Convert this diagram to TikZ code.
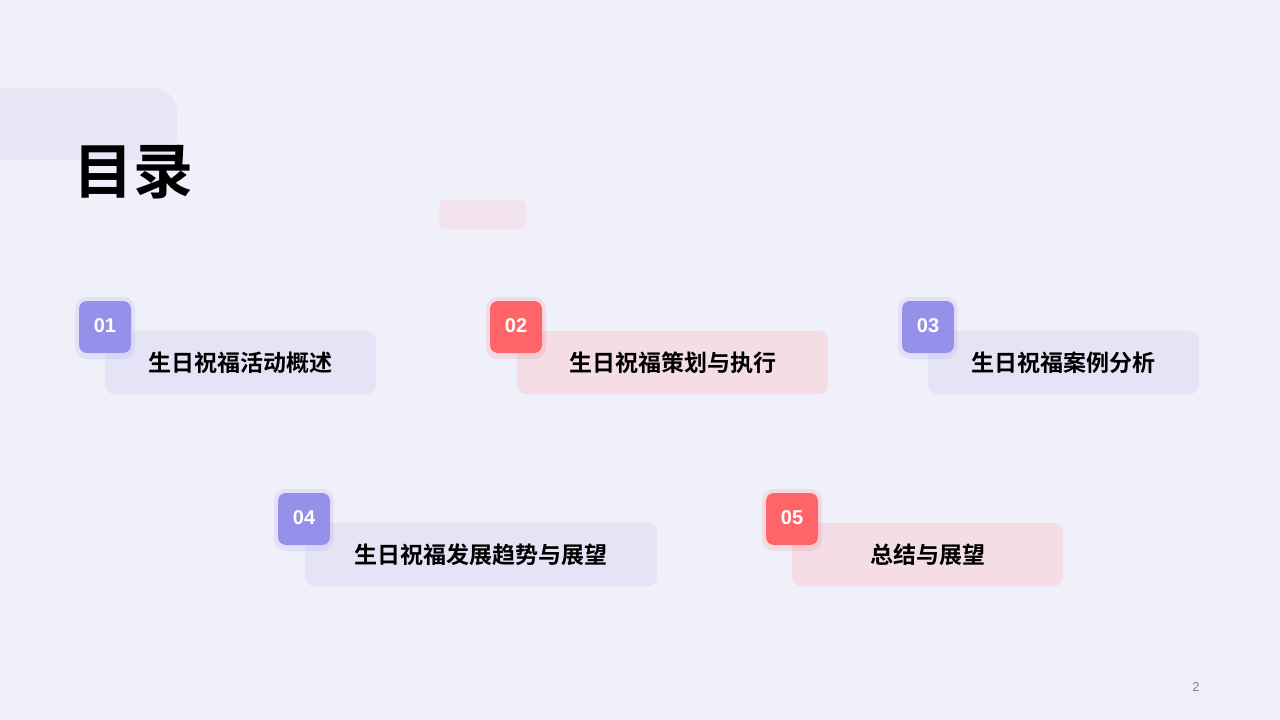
\documentclass[tikz,border=0pt]{standalone}
\usepackage{fontspec}
\newfontfamily\cjk{Noto Sans CJK SC}[BoldFont={* Bold}]
\setsansfont{Liberation Sans}
\definecolor{bg}{HTML}{F0F0FA}
\definecolor{deco}{HTML}{E6E6F7}
\definecolor{pinkdeco}{HTML}{F3E3EC}
\definecolor{pcard}{HTML}{E5E4F6}
\definecolor{rcard}{HTML}{F5DDE5}
\definecolor{pbadge}{HTML}{9590EA}
\definecolor{rbadge}{HTML}{FF6468}
\tikzset{
 btext/.style={text=white,font=\sffamily\bfseries\fontsize{20}{24}\selectfont},
 ctext/.style={font=\cjk\bfseries\fontsize{23}{28}\selectfont,text=black},
}
\begin{document}
\begin{tikzpicture}[x=1pt,y=-1pt]
\fill[bg] (0,0) rectangle (1280,720);
\useasboundingbox (0,0) rectangle (1280,720);
\fill[deco,rounded corners=24pt] (-30,88) rectangle (177,160);
\fill[pinkdeco,rounded corners=5pt] (439,200) rectangle (526,229);
\node[font=\cjk\bfseries\fontsize{60}{70}\selectfont,anchor=west] (title) at (70,172) {目录};
\foreach \bx/\by/\cxa/\cxb/\cy/\bc/\cc/\num/\txt in {
 79/301/105/376/331/pbadge/pcard/01/生日祝福活动概述,
 490/301/517/828/331/rbadge/rcard/02/生日祝福策划与执行,
 902/301/928/1199/331/pbadge/pcard/03/生日祝福案例分析,
 278/493/305/657/523/pbadge/pcard/04/生日祝福发展趋势与展望,
 766/493/792/1063/523/rbadge/rcard/05/总结与展望}{
 \fill[\cc,rounded corners=9pt] (\cxa,\cy) rectangle (\cxb,\cy+63);
 \node[ctext] (t\num) at ({(\cxa+\cxb)/2},\cy+32) {\txt};
 \fill[\bc,opacity=0.15,rounded corners=12pt] (\bx-4,\by-4) rectangle (\bx+56,\by+58);
 \fill[\bc,rounded corners=8pt] (\bx,\by) rectangle (\bx+52,\by+52);
 \node[btext] (b\num) at (\bx+26,\by+25) {\num};
}
\node[font=\sffamily\fontsize{13}{15}\selectfont,text=gray] (pg) at (1196,687) {2};
\end{tikzpicture}
\end{document}
